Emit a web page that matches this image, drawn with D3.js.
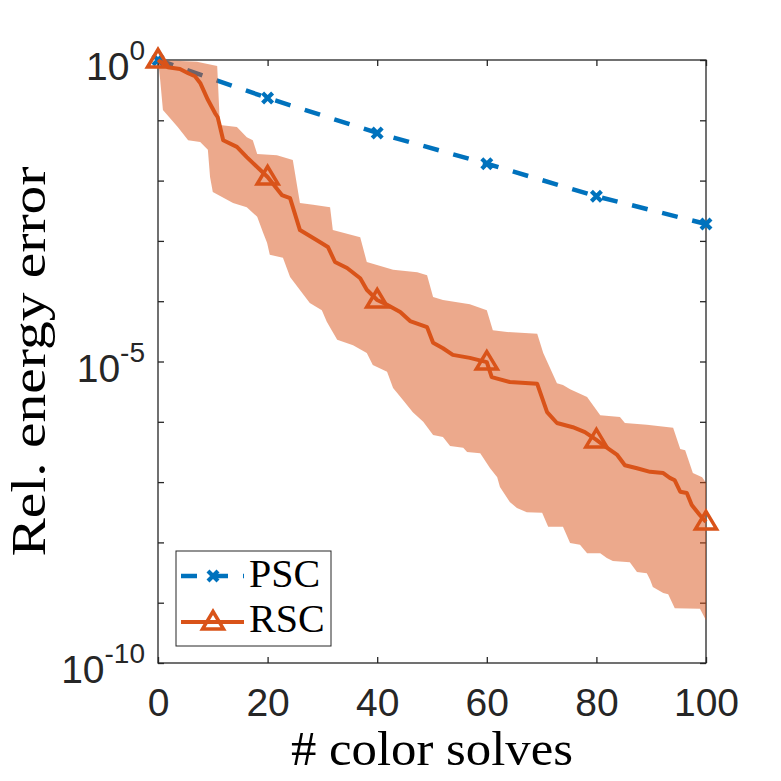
<!DOCTYPE html>
<html>
<head>
<meta charset="utf-8">
<script src="https://cdn.jsdelivr.net/npm/d3@7"></script>
<style>
  body { margin: 0; background: #fff; }
  svg { display: block; }
</style>
</head>
<body>
<div id="chart"></div>
<script>
// Données (exposants base 10)
const markerSolves = [0, 20, 40, 60, 80, 100];
const pscExp = [0, -0.63, -1.21, -1.72, -2.26, -2.72];

// Médiane RSC
const rscX = [0, 1.8, 4.0, 5.5, 6.75, 7.7, 9.1, 10.4, 10.9, 11.9, 14.4, 16.2, 20, 22.6, 24.1, 25.9, 29.0, 31.0,
  32.3, 34.5, 36.9, 38.1, 40, 41.8, 44.2, 46.0, 49.1, 50.2, 52.0, 53.8, 56.9, 60, 60.9, 64.2, 69.2, 71.0, 72.8,
  75.7, 77.9, 80, 81.9, 83.8, 85.2, 87.4, 89.8, 92.2, 93.4, 94.3, 95.3, 96.5, 97.4, 98.9, 100];
const rscExp = [0, -0.12, -0.15, -0.22, -0.27, -0.38, -0.66, -0.88, -0.95, -1.33, -1.44, -1.61, -1.94, -2.24, -2.29,
  -2.82, -2.99, -3.10, -3.35, -3.45, -3.62, -3.81, -3.98, -4.06, -4.18, -4.33, -4.43, -4.69, -4.78, -4.89, -4.94,
  -5.01, -5.26, -5.34, -5.37, -5.84, -6.02, -6.09, -6.17, -6.30, -6.43, -6.55, -6.72, -6.77, -6.83, -6.85, -6.93,
  -6.97, -7.16, -7.18, -7.38, -7.55, -7.66];

// Bande RSC : bord supérieur
const upperX = [0, 7.1, 10.8, 11.3, 14.4, 16.2, 17.3, 18.1, 21.7, 24.6, 25.9, 28.3, 31.4, 31.9, 36.9, 38.1, 42.9,
  47.3, 49.1, 50.2, 52.0, 56.9, 60.0, 61.1, 63.7, 69.2, 70.3, 72.8, 73.9, 75.2, 78.3, 80.7, 84.3, 85.2, 89.2, 94.0,
  95.3, 96.2, 97.6, 99.3, 100];
const upperExp = [0, -0.03, -0.10, -1.08, -1.11, -1.28, -1.33, -1.56, -1.58, -1.66, -2.37, -2.40, -2.44, -2.82,
  -2.94, -3.35, -3.48, -3.52, -3.57, -3.93, -3.98, -4.05, -4.15, -4.48, -4.51, -4.54, -4.86, -5.36, -5.39, -5.46,
  -5.59, -5.89, -5.92, -6.02, -6.05, -6.10, -6.45, -6.47, -6.85, -6.92, -7.01];

// Bande RSC : bord inférieur
const lowerX = [0, 0.4, 0.9, 3.6, 5.5, 7.7, 9.1, 9.5, 10.0, 13.7, 16.2, 18.1, 19.2, 19.9, 20.4, 22.8, 24.1, 27.7,
  29.9, 30.8, 32.7, 35.6, 38.1, 39.2, 41.8, 42.9, 44.7, 46.5, 48.4, 50.2, 52.0, 53.3, 55.7, 56.4, 58.8, 60.6, 61.9,
  62.4, 64.2, 65.5, 67.3, 70.1, 71.2, 73.9, 75.2, 77.0, 78.3, 80.7, 81.9, 83.0, 86.1, 87.4, 89.2, 89.8, 90.3, 92.2,
  93.1, 94.3, 98.9, 100];
const lowerExp = [0, -0.33, -0.83, -1.11, -1.33, -1.36, -1.49, -1.94, -2.19, -2.37, -2.44, -2.60, -2.87, -3.03,
  -3.23, -3.28, -3.60, -4.03, -4.15, -4.34, -4.64, -4.73, -4.86, -5.06, -5.17, -5.44, -5.64, -5.84, -6.00, -6.22,
  -6.25, -6.40, -6.43, -6.50, -6.52, -6.77, -6.92, -7.08, -7.33, -7.43, -7.50, -7.51, -7.74, -7.74, -8.01, -8.04,
  -8.18, -8.18, -8.26, -8.31, -8.33, -8.49, -8.51, -8.62, -8.74, -8.84, -8.86, -9.09, -9.10, -9.29];

const xTicks = [0, 20, 40, 60, 80, 100];
const yTickExp = [0, -1, -2, -3, -4, -5, -6, -7, -8, -9, -10];
const yLabelExp = [0, -5, -10];
const legendNames = ['PSC', 'RSC'];

const pscColor = '#0072BD', rscColor = '#D95319', axisColor = '#262626';

// Dimensions
const W = 781, H = 781;
const margin = { top: 60, right: 75, bottom: 118, left: 158 };

const svg = d3.select('#chart').append('svg')
  .attr('width', W).attr('height', H);

const x = d3.scaleLinear().domain([0, 100]).range([margin.left, W - margin.right]);
const y = d3.scaleLog().domain([1e-10, 1]).range([H - margin.bottom, margin.top]);

const p10 = e => Math.pow(10, e);

// Axes (dessous des données, comme MATLAB)
const axes = svg.append('g');
axes.append('rect')
  .attr('x', x(0)).attr('y', y(1))
  .attr('width', x(100) - x(0)).attr('height', y(1e-10) - y(1))
  .attr('fill', 'none').attr('stroke', axisColor).attr('stroke-width', 1.3);

const styleAxis = g => {
  g.select('.domain').remove();
  g.selectAll('.tick line').attr('stroke', axisColor).attr('stroke-width', 1.3);
};

axes.append('g')
  .attr('transform', `translate(0,${y(1e-10)})`)
  .call(d3.axisBottom(x).tickValues(xTicks).tickSize(-6).tickPadding(25))
  .call(styleAxis)
  .call(g => g.selectAll('text')
    .attr('font-family', '"Liberation Sans", Arial, sans-serif')
    .attr('font-size', 39).attr('fill', axisColor));

axes.append('g')
  .attr('transform', `translate(0,${y(1)})`)
  .call(d3.axisTop(x).tickValues(xTicks).tickSize(-6).tickFormat(''))
  .call(styleAxis);

axes.append('g')
  .attr('transform', `translate(${x(0)},0)`)
  .call(d3.axisLeft(y).tickValues(yTickExp.map(p10)).tickSize(-6).tickFormat(''))
  .call(styleAxis);

axes.append('g')
  .attr('transform', `translate(${x(100)},0)`)
  .call(d3.axisRight(y).tickValues(yTickExp.map(p10)).tickSize(-6).tickFormat(''))
  .call(styleAxis);

// Étiquettes 10^n
const yLab = axes.append('g')
  .attr('font-family', '"Liberation Sans", Arial, sans-serif')
  .attr('fill', axisColor)
  .selectAll('text')
  .data(yLabelExp)
  .join('text')
  .attr('x', x(0) - 13)
  .attr('y', d => y(p10(d)) + 20)
  .attr('text-anchor', 'end');
yLab.append('tspan').attr('font-size', 39).text('10');
yLab.append('tspan').attr('font-size', 28).attr('dy', -20).text(d => d);

// Courbe PSC (tirets)
const pscData = markerSolves.map((s, i) => ({ x: s, v: p10(pscExp[i]) }));
const line = d3.line().x(d => x(d.x)).y(d => y(d.v));

svg.append('path')
  .datum(pscData)
  .attr('d', line)
  .attr('fill', 'none')
  .attr('stroke', pscColor)
  .attr('stroke-width', 4.5)
  .attr('stroke-dasharray', '16,15');

const crossPath = 'M-5,-5L5,5M-5,5L5,-5';
svg.append('g').selectAll('path')
  .data(pscData)
  .join('path')
  .attr('transform', d => `translate(${x(d.x)},${y(d.v)})`)
  .attr('d', crossPath)
  .attr('stroke', pscColor).attr('stroke-width', 4.2).attr('fill', 'none');

// Bande min/max RSC
const upper = upperX.map((s, i) => ({ x: s, v: p10(upperExp[i]) }));
const lower = lowerX.map((s, i) => ({ x: s, v: p10(lowerExp[i]) }));
const band = upper.concat(lower.slice().reverse());

svg.append('path')
  .datum(band)
  .attr('d', d => line(d) + 'Z')
  .attr('fill', rscColor)
  .attr('fill-opacity', 0.5)
  .attr('stroke', 'none');

// Médiane RSC
const rscData = rscX.map((s, i) => ({ x: s, v: p10(rscExp[i]) }));
svg.append('path')
  .datum(rscData)
  .attr('d', line)
  .attr('fill', 'none')
  .attr('stroke', rscColor)
  .attr('stroke-width', 4)
  .attr('stroke-linejoin', 'round');

const triPath = 'M0,-10.5L10.5,7L-10.5,7Z';
const rscMarkers = markerSolves.map(s => rscData.find(d => d.x === s));
svg.append('g').selectAll('path')
  .data(rscMarkers)
  .join('path')
  .attr('transform', d => `translate(${x(d.x)},${y(d.v)})`)
  .attr('d', triPath)
  .attr('fill', 'none').attr('stroke', rscColor).attr('stroke-width', 3.5);

// Légende
const legend = svg.append('g');
legend.append('rect')
  .attr('x', 176).attr('y', 551).attr('width', 155).attr('height', 95)
  .attr('fill', '#fff').attr('stroke', axisColor).attr('stroke-width', 1);

legend.append('line')
  .attr('x1', 181).attr('x2', 244).attr('y1', 576).attr('y2', 576)
  .attr('stroke', pscColor).attr('stroke-width', 4.5).attr('stroke-dasharray', '16,15');
legend.append('path')
  .attr('transform', 'translate(213,576)').attr('d', crossPath)
  .attr('stroke', pscColor).attr('stroke-width', 4.2).attr('fill', 'none');

legend.append('line')
  .attr('x1', 181).attr('x2', 244).attr('y1', 622).attr('y2', 622)
  .attr('stroke', rscColor).attr('stroke-width', 4);
legend.append('path')
  .attr('transform', 'translate(213,622)').attr('d', triPath)
  .attr('fill', 'none').attr('stroke', rscColor).attr('stroke-width', 3.5);

legend.selectAll('text.name')
  .data(legendNames)
  .join('text')
  .attr('class', 'name')
  .attr('x', 249)
  .attr('y', (d, i) => 587 + i * 45)
  .attr('font-family', '"Liberation Serif", "Times New Roman", serif')
  .attr('font-size', 40)
  .attr('fill', '#000')
  .text(d => d);

// Titres des axes
svg.append('text')
  .attr('x', (x(0) + x(100)) / 2).attr('y', 765)
  .attr('text-anchor', 'middle')
  .attr('font-family', '"Liberation Serif", "Times New Roman", serif')
  .attr('font-size', 48)
  .attr('textLength', 282).attr('lengthAdjust', 'spacingAndGlyphs')
  .attr('fill', '#000')
  .text('# color solves');

svg.append('text')
  .attr('transform', `translate(45,${(y(1) + y(1e-10)) / 2}) rotate(-90)`)
  .attr('text-anchor', 'middle')
  .attr('font-family', '"Liberation Serif", "Times New Roman", serif')
  .attr('font-size', 48)
  .attr('textLength', 390).attr('lengthAdjust', 'spacingAndGlyphs')
  .attr('fill', '#000')
  .text('Rel. energy error');
</script>
</body>
</html>
